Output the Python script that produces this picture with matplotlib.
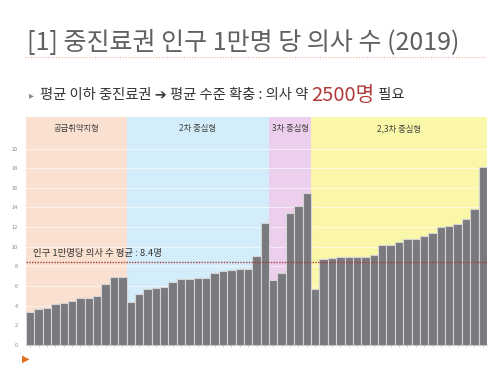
import matplotlib
matplotlib.use("Agg")
import matplotlib.pyplot as plt
import numpy as np

plt.rcParams['font.family'] = ['Noto Sans CJK KR', 'DejaVu Sans']

# Data (doctors per 10,000 population, sorted within groups)
groups = ['공급취약지형', '2차 중심형', '3차 중심형', '2,3차 중심형']
group_colors = ['#fae0d0', '#d4edfa', '#eccfec', '#fbf7a8']
vals_weak = [3.34, 3.64, 3.80, 4.13, 4.30, 4.49, 4.79, 4.79, 5.02, 6.2, 6.92, 6.92]
vals_2nd = [4.33, 5.21, 5.67, 5.80, 5.90, 6.36, 6.69, 6.69, 6.85, 6.85, 7.34,
            7.54, 7.67, 7.77, 7.77, 9.08, 12.43]
vals_3rd = [6.59, 7.28, 13.41, 14.10, 15.50]
vals_23 = [5.70, 8.79, 8.85, 8.92, 8.98, 8.98, 8.98, 9.15, 10.13, 10.20, 10.46,
           10.79, 10.79, 11.05, 11.44, 12.00, 12.07, 12.30, 12.82, 13.87, 18.16]
mean_val = 8.4
yticks = list(range(0, 21, 2))

title = '[1] 중진료권 인구 1만명 당 의사 수 (2019)'
mean_label = '인구 1만명당 의사 수 평균 : 8.4명'
sub_parts = [('평균 이하 중진료권 \u2794 평균 수준 확충 : 의사 약 ', 10.3, '#333333'),
             ('2500명', 14.5, '#b03a3a'),
             (' 필요', 10.3, '#333333')]

all_groups = [vals_weak, vals_2nd, vals_3rd, vals_23]
values = np.concatenate(all_groups)
x = np.arange(len(values))

fig = plt.figure(figsize=(5, 3.72), dpi=100)
fig.patch.set_facecolor('white')
renderer = fig.canvas.get_renderer()

# slide title + dotted rule
fig.text(0.054, 0.884, title, fontsize=18, color='#606060',
         va='center', ha='left')
fig.add_artist(plt.Line2D([0.05, 0.97], [0.846, 0.846], color='#e8b0a0',
                          lw=0.8, ls=(0, (1, 1.5))))

# subtitle line, pieces placed one after another
fig.text(0.058, 0.744, '\u25b8', fontsize=7, color='#888888', va='center')
xpos = 0.08
for txt, size, col in sub_parts:
    t = fig.text(xpos, 0.744, txt, fontsize=size, color=col, va='center')
    bb = t.get_window_extent(renderer=renderer)
    xpos += bb.width / fig.bbox.width

ax = fig.add_axes([0.052, 0.073, 0.922, 0.612])
ax.set_xlim(-0.5, len(values) - 0.5)
ax.set_ylim(0, 23.2)

# group background bands and labels
start = 0
for name, col, g in zip(groups, group_colors, all_groups):
    end = start + len(g)
    ax.axvspan(start - 0.5, end - 0.5, color=col, zorder=0, lw=0)
    ax.text((start + end - 1) / 2, 22.0, name, ha='center', va='center',
            fontsize=6, color='#404040')
    start = end

for t in yticks[1:]:
    ax.axhline(t, color='white', lw=0.7, alpha=0.6, zorder=1)

ax.bar(x, values, width=1.0, color='#7a797d', edgecolor='#d4d4d4', lw=0.8, zorder=2)

ax.axhline(mean_val, color='#a33a3a', lw=1.0, ls=(0, (1, 1)), zorder=3)
ax.text(0.3, mean_val + 0.45, mean_label, fontsize=6.8, color='#333333',
        va='bottom', ha='left', zorder=4)

ax.set_yticks(yticks)
ax.set_yticklabels([str(t) for t in yticks], fontsize=4, color='#888888')
ax.tick_params(axis='y', length=0, pad=6)
ax.set_xticks(x)
ax.set_xticklabels([])
ax.tick_params(axis='x', length=1.5, color='#bbbbbb', width=0.5)
for s in ['top', 'right', 'left']:
    ax.spines[s].set_visible(False)
ax.spines['bottom'].set_color('#bbbbbb')
ax.spines['bottom'].set_linestyle((0, (1, 1)))
ax.spines['bottom'].set_linewidth(0.6)

# orange slide marker bottom-left
fig.text(0.043, 0.035, '\u25b6', fontsize=7, color='#e07020', va='center',
         family=['DejaVu Sans'])

fig.savefig('out.png', dpi=100)
